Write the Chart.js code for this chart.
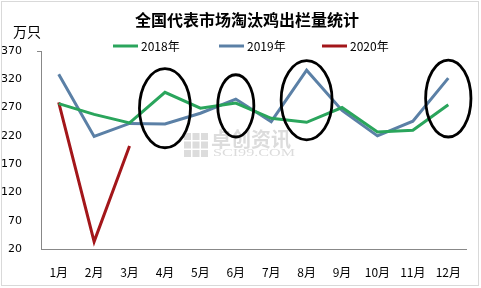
<!DOCTYPE html>
<html>
<head>
<meta charset="utf-8">
<script src="https://cdn.jsdelivr.net/npm/chart.js@4.4.1/dist/chart.umd.min.js"></script>
<style>
  body { margin: 0; background: #fff; }
  #wrap { width: 481px; height: 288px; }
</style>
</head>
<body>
<div id="wrap"><canvas id="myChart" width="481" height="288"></canvas></div>
<script>
"use strict";

const months = ["1月", "2月", "3月", "4月", "5月", "6月", "7月", "8月", "9月", "10月", "11月", "12月"];
const values2018 = [277, 258, 243, 297, 269, 278, 251, 244, 270, 227, 230, 275];
const values2019 = [329, 219, 242, 241, 260, 285, 245, 336, 265, 220, 246, 322];
const values2020 = [279, 33, 202];
const yTicks = [20, 70, 120, 170, 220, 270, 320, 370];

const seriesNames = ["2018年", "2019年", "2020年"];
const seriesColors = ["#2aa55c", "#5b80a6", "#a3161a"];

// circled months: index, centre value, half width (in categories), half height (in values)
const circles = [
  { idx: 3, value: 269, rx: 0.72, ry: 70 },
  { idx: 5, value: 273, rx: 0.51, ry: 55 },
  { idx: 7, value: 283, rx: 0.72, ry: 70 },
  { idx: 11, value: 286, rx: 0.64, ry: 68 },
];

const cjk = "'Noto Sans CJK SC', 'Microsoft YaHei', sans-serif";

const decorPlugin = {
  id: "decor",
  beforeDatasetsDraw(chart) {
    const ctx = chart.ctx;
    ctx.save();
    // watermark
    ctx.fillStyle = "#dcdcdc";
    for (let r = 0; r < 3; r++) {
      for (let c = 0; c < 3; c++) {
        ctx.fillRect(184 + c * 8.5, 133 + r * 8.5, 7, 7);
      }
    }
    ctx.font = "bold 20px " + cjk;
    ctx.textBaseline = "middle";
    ctx.fillText("卓创资讯", 211, 139);
    ctx.font = "11px 'Liberation Serif', serif";
    const wm = "SCI99.COM";
    const w = ctx.measureText(wm).width;
    ctx.translate(213, 153);
    ctx.scale(82 / w, 1);
    ctx.fillText(wm, 0, 0);
    ctx.restore();
  },
  afterDraw(chart) {
    const ctx = chart.ctx;
    const x = chart.scales.x;
    const y = chart.scales.y;
    ctx.save();

    // frame
    ctx.strokeStyle = "#d9d9d9";
    ctx.lineWidth = 1;
    ctx.strokeRect(1.5, 1.5, 477, 284);

    // small tick at top of value axis
    ctx.strokeStyle = "#888";
    ctx.beginPath();
    ctx.moveTo(y.right - 4, y.getPixelForValue(370) + 0.5);
    ctx.lineTo(y.right, y.getPixelForValue(370) + 0.5);
    ctx.stroke();

    // title
    ctx.fillStyle = "#000";
    ctx.font = "bold 16px " + cjk;
    ctx.textAlign = "center";
    ctx.textBaseline = "middle";
    ctx.fillText("全国代表市场淘汰鸡出栏量统计", 247, 20);

    // unit
    ctx.font = "14px " + cjk;
    ctx.textAlign = "left";
    ctx.fillText("万只", 13, 32);

    // legend
    const legendX = [113, 219, 322];
    ctx.font = "12px " + cjk;
    for (let i = 0; i < seriesNames.length; i++) {
      ctx.strokeStyle = seriesColors[i];
      ctx.lineWidth = 3;
      ctx.beginPath();
      ctx.moveTo(legendX[i], 46);
      ctx.lineTo(legendX[i] + 25, 46);
      ctx.stroke();
      ctx.fillStyle = "#000";
      ctx.fillText(seriesNames[i], legendX[i] + 28, 46);
    }

    // ellipses
    const step = x.getPixelForValue(1) - x.getPixelForValue(0);
    ctx.strokeStyle = "#000";
    ctx.lineWidth = 2.8;
    for (const c of circles) {
      const cx = x.getPixelForValue(c.idx);
      const cy = y.getPixelForValue(c.value);
      const ry = Math.abs(y.getPixelForValue(c.value + c.ry) - cy);
      ctx.beginPath();
      ctx.ellipse(cx, cy, c.rx * step, ry, 0, 0, Math.PI * 2);
      ctx.stroke();
    }
    ctx.restore();
  },
};

const data = {
  labels: months,
  datasets: [
    { label: seriesNames[0], data: values2018, borderColor: seriesColors[0], borderWidth: 3 },
    { label: seriesNames[1], data: values2019, borderColor: seriesColors[1], borderWidth: 3 },
    { label: seriesNames[2], data: values2020, borderColor: seriesColors[2], borderWidth: 3 },
  ],
};

const config = {
  type: "line",
  data: data,
  options: {
    responsive: false,
    animation: false,
    layout: { padding: { top: 51, right: 15, left: 0, bottom: 0 } },
    elements: { point: { radius: 0 }, line: { tension: 0 } },
    plugins: { legend: { display: false }, title: { display: false }, tooltip: { enabled: false } },
    scales: {
      x: {
        offset: true,
        grid: { display: false },
        border: { color: "#888", width: 1 },
        ticks: { color: "#000", font: { size: 12, family: cjk }, padding: 8, maxRotation: 0 },
        afterFit(s) { s.height = 39; },
      },
      y: {
        min: 20,
        max: 370,
        afterBuildTicks(s) { s.ticks = yTicks.map(v => ({ value: v })); },
        grid: { display: false },
        border: { color: "#888", width: 1 },
        ticks: { color: "#000", font: { size: 11, family: "'DejaVu Sans', sans-serif" }, padding: 11 },
        afterFit(s) { s.width = 41; },
      },
    },
  },
  plugins: [decorPlugin],
};

const myChart = new Chart(document.getElementById("myChart"), config);
</script>
</body>
</html>
